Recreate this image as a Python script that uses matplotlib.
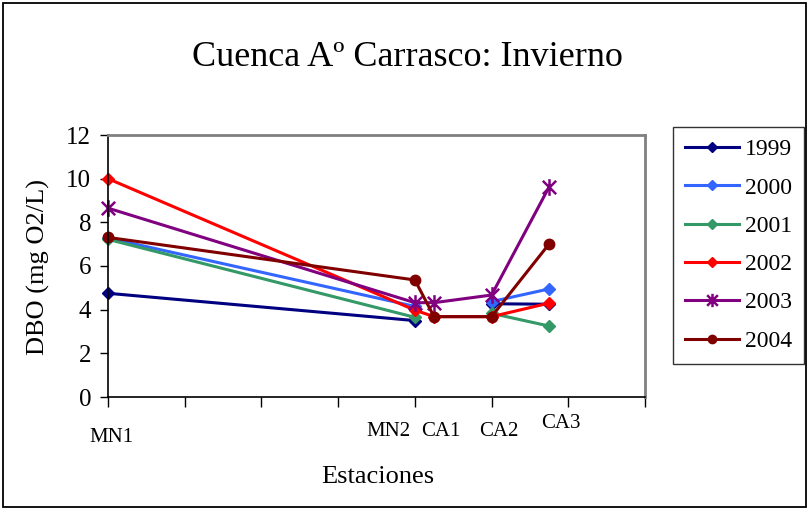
import numpy as np
import matplotlib
matplotlib.use("Agg")
import matplotlib.pyplot as plt
from matplotlib.path import Path
from matplotlib.patches import Rectangle

# Station positions along the stream (x values) and their names
stations = ["MN1", "MN2", "CA1", "CA2", "CA3"]
station_x = [0.0, 4.0, 4.25, 5.0, 5.75]

# DBO (mg O2/L) per year; NaN where no sample was taken
years = ["1999", "2000", "2001", "2002", "2003", "2004"]
dbo_1999 = [4.75, 3.5, np.nan, 4.27, 4.25]
dbo_2000 = [7.28, 4.15, np.nan, 4.37, 4.95]
dbo_2001 = [7.22, 3.65, np.nan, 3.83, 3.25]
dbo_2002 = [10.0, 3.98, 3.68, 3.68, 4.3]
dbo_2003 = [8.65, 4.32, 4.32, 4.67, 9.62]
dbo_2004 = [7.31, 5.36, 3.68, 3.68, 7.01]
series = [dbo_1999, dbo_2000, dbo_2001, dbo_2002, dbo_2003, dbo_2004]

colors = ["#000080", "#3366FF", "#339966", "#FF0000", "#800080", "#800000"]

# Star marker: an X plus a vertical bar
star = Path([(-1, -1), (1, 1), (-1, 1), (1, -1), (0, -1.25), (0, 1.25)],
            [Path.MOVETO, Path.LINETO, Path.MOVETO, Path.LINETO,
             Path.MOVETO, Path.LINETO])
markers = ["D", "D", "D", "D", star, "o"]
msizes = [6, 6, 6, 6, 12, 7.5]

plt.rcParams["font.family"] = ["Liberation Serif", "DejaVu Serif"]

W, H = 807, 508
fig = plt.figure(figsize=(W / 100, H / 100), dpi=100)
fig.patch.set_facecolor("white")

# Chart border
fig.add_artist(Rectangle((2.5 / W, 1.5 / H), (W - 4) / W, (H - 4) / H,
                         transform=fig.transFigure, fill=False,
                         edgecolor="black", linewidth=1.3))

left, right, top, bottom = 108, 645, 135, 397
ax = fig.add_axes([left / W, 1 - bottom / H, (right - left) / W, (bottom - top) / H])

for vals, c, m, ms, yr in zip(series, colors, markers, msizes, years):
    if m is star:
        ax.plot(station_x, vals, color=c, lw=2.2, marker=m, ms=ms,
                markeredgewidth=1.8, markeredgecolor=c, label=yr, clip_on=False)
    else:
        ax.plot(station_x, vals, color=c, lw=2.2, marker=m, ms=ms,
                markeredgecolor=c, markerfacecolor=c, label=yr, clip_on=False)

ax.set_xlim(0, 7)
ax.set_ylim(0, 12)
ax.set_yticks(range(0, 13, 2))
ax.set_xticks(range(0, 8))
ax.set_xticklabels([])
ax.tick_params(axis="y", direction="out", length=6, width=1, labelsize=18, pad=6)
ax.tick_params(axis="x", direction="out", length=7, width=1)
for s in ("left", "bottom"):
    ax.spines[s].set_color("black")
    ax.spines[s].set_linewidth(1.2)
for s in ("top", "right"):
    ax.spines[s].set_color("#808080")
    ax.spines[s].set_linewidth(2)

# Station names placed under the axis
label_dx = [0.05, -0.35, 0.09, 0.1, 0.15]
label_dy = [40, 35, 35, 35, 27]
for name, x, dx, dy in zip(stations, station_x, label_dx, label_dy):
    px = left + (x + dx) * (right - left) / 7
    fig.text(px / W, 1 - (bottom + dy) / H, name, ha="center", va="center",
             fontsize=15)

fig.text(378 / W, 1 - 477 / H, "Estaciones", ha="center", va="center", fontsize=19)
fig.text(38 / W, 1 - 267 / H, "DBO (mg O2/L)", ha="center", va="center",
         rotation=90, fontsize=19)
fig.text(407 / W, 1 - 58 / H, "Cuenca Aº Carrasco: Invierno", ha="center",
         va="center", fontsize=26)

leg = fig.legend(loc="upper left", bbox_to_anchor=(673 / W, 1 - 127 / H),
                 bbox_transform=fig.transFigure, frameon=True, fancybox=False,
                 fontsize=17, handlelength=2.3, labelspacing=0.71,
                 handletextpad=0.25, borderpad=0.5, borderaxespad=0)
leg.get_frame().set_edgecolor("black")
leg.get_frame().set_linewidth(1)
for h in leg.legend_handles:
    h.set_markersize(h.get_markersize() * 0.8)

fig.savefig("out.png", dpi=100, facecolor="white")
